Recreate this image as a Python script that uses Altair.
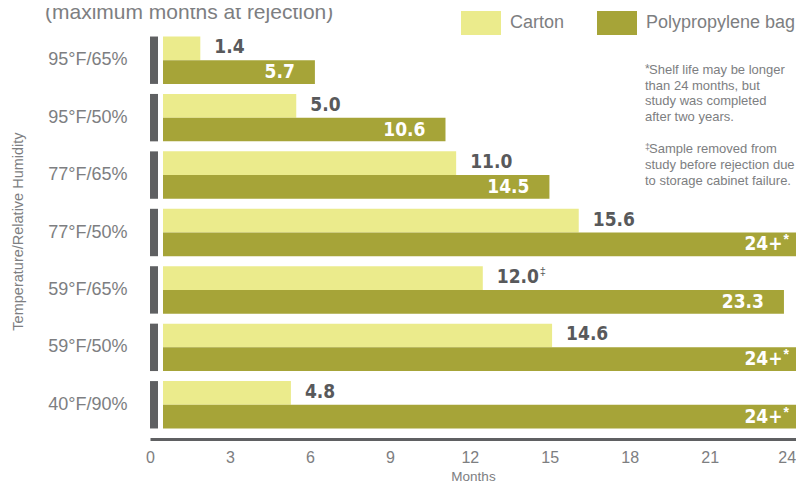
import altair as alt
import pandas as pd

# ---- data ----
categories = ["95°F/65%", "95°F/50%", "77°F/65%", "77°F/50%", "59°F/65%", "59°F/50%", "40°F/90%"]
series_names = ["Carton", "Polypropylene bag"]
carton_values = [1.4, 5.0, 11.0, 15.6, 12.0, 14.6, 4.8]
carton_labels = ["1.4", "5.0", "11.0", "15.6", "12.0‡", "14.6", "4.8"]
poly_values = [5.7, 10.6, 14.5, 24, 23.3, 24, 24]
poly_labels = ["5.7", "10.6", "14.5", "24+*", "23.3", "24+*", "24+*"]
x_ticks = [0, 3, 6, 9, 12, 15, 18, 21, 24]

title_text = "(maximum months at rejection)"
note1_first = "Shelf life may be longer"
note1_rest = ["than 24 months, but", "study was completed", "after two years."]
note2_first = "Sample removed from"
note2_rest = ["study before rejection due", "to storage cabinet failure."]

# ---- styles ----
CARTON = "#ebeb8c"
POLY = "#a6a438"
DARK = "#5f6062"
GREY_TXT = "#7d7e81"
NUM_TXT = "#58595b"
SANS = "Liberation Sans, Helvetica, Arial, sans-serif"
NARROW = "DejaVu Sans Condensed, sans-serif"
NUM_SIZE = 19

rows = []
for c, v, l in zip(categories, carton_values, carton_labels):
    rows.append({"cond": c, "series": series_names[0], "value": v,
                 "main": l.rstrip("*‡"), "sup": l[len(l.rstrip("*‡")):]})
for c, v, l in zip(categories, poly_values, poly_labels):
    rows.append({"cond": c, "series": series_names[1], "value": v,
                 "main": l.rstrip("*‡"), "sup": l[len(l.rstrip("*‡")):]})
df = pd.DataFrame(rows)
cats_df = pd.DataFrame({"cond": categories})
one = pd.DataFrame({"k": [0]})

W, H = 646, 413
xscale = alt.Scale(domain=[0, 24.24], nice=False, zero=False)
yscale = alt.Scale(domain=categories, paddingInner=0.174, paddingOuter=0.183)
y_enc = alt.Y("cond:N", sort=categories, scale=yscale,
              axis=alt.Axis(title="Temperature/Relative Humidity", labelFontSize=18,
                            labelFont=SANS, labelColor=GREY_TXT, labelPadding=23,
                            domain=False, ticks=False, titleFont=SANS, titleFontSize=14.5,
                            titleFontWeight="normal", titleColor=GREY_TXT,
                            titleX=-132, titleY=205, titleBaseline="middle", titleAngle=270))
yoff = alt.YOffset("series:N", sort=series_names)

base = alt.Chart(df)

bars = base.mark_bar(xOffset=13, x2Offset=13, clip=True).encode(
    x=alt.X("value:Q", scale=xscale,
            axis=alt.Axis(values=x_ticks, title="Months", grid=False, ticks=False,
                          labelFlush=False, labelFont=SANS, labelFontSize=16,
                          labelColor=GREY_TXT, labelPadding=10, domainColor=DARK,
                          domainWidth=3, titleFont=SANS, titleFontSize=13.5,
                          titleFontWeight="normal", titleColor=GREY_TXT, titlePadding=4,
                          labelAlign={"condition": {"test": "datum.value == 24", "value": "right"},
                                      "value": "center"},
                          labelOffset={"condition": {"test": "datum.value == 24", "value": 6},
                                       "value": 0})),
    x2=alt.datum(0),
    y=y_enc,
    yOffset=yoff,
    color=alt.Color("series:N", sort=series_names,
                    scale=alt.Scale(domain=series_names, range=[CARTON, POLY]),
                    legend=alt.Legend(orient="none", legendX=311, legendY=-23,
                                      direction="horizontal", columns=2, title=None,
                                      symbolType="M-1,-0.6L1,-0.6L1,0.6L-1,0.6Z",
                                      symbolSize=1600, symbolStrokeWidth=0,
                                      symbolOpacity=1, labelFont=SANS, labelFontSize=18,
                                      labelColor=GREY_TXT, labelOffset=9,
                                      columnPadding=32, padding=0)),
)

markers = alt.Chart(cats_df).mark_tick(thickness=8, size=47.4, color=DARK, xOffset=4,
                                       opacity=1).encode(
    x=alt.datum(0),
    y=alt.Y("cond:N", sort=categories),
)

carton_txt = base.transform_filter(alt.datum.series == series_names[0]).mark_text(
    align="left", baseline="middle", dx=27, dy=-1, font=NARROW, fontSize=NUM_SIZE,
    fontWeight="bold", color=NUM_TXT).encode(
    x="value:Q", y=alt.Y("cond:N", sort=categories), yOffset=yoff, text="main:N")

carton_sup = base.transform_filter(
    (alt.datum.series == series_names[0]) & (alt.datum.sup != "")).mark_text(
    align="left", baseline="middle", dx=70, dy=-6, font=SANS, fontSize=11,
    color=NUM_TXT).encode(
    x="value:Q", y=alt.Y("cond:N", sort=categories), yOffset=yoff, text="sup:N")

poly_txt = base.transform_filter(alt.datum.series == series_names[1]).mark_text(
    align="right", baseline="middle", dx=-7, dy=0, font=NARROW, fontSize=NUM_SIZE,
    fontWeight="bold", color="white").encode(
    x="value:Q", y=alt.Y("cond:N", sort=categories), yOffset=yoff, text="main:N")

poly_sup = base.transform_filter(
    (alt.datum.series == series_names[1]) & (alt.datum.sup != "")).mark_text(
    align="left", baseline="middle", dx=-6, dy=-4, font=SANS, fontSize=14,
    fontWeight="bold", color="white").encode(
    x="value:Q", y=alt.Y("cond:N", sort=categories), yOffset=yoff, text="sup:N")

ann = alt.Chart(one)
title_mark = ann.mark_text(text=title_text, align="left", baseline="alphabetic",
                           font=SANS, fontSize=21, color=GREY_TXT).encode(
    x=alt.value(-105), y=alt.value(-7))
star = ann.mark_text(text="*", align="left", baseline="alphabetic", font=SANS,
                     fontSize=12, color=GREY_TXT).encode(x=alt.value(495), y=alt.value(47))
n1a = ann.mark_text(text=note1_first, align="left", baseline="alphabetic", font=SANS,
                    fontSize=13, color=GREY_TXT).encode(x=alt.value(499), y=alt.value(48))
n1b = ann.mark_text(text=note1_rest, align="left", baseline="alphabetic", font=SANS,
                    fontSize=13, lineHeight=15.3, color=GREY_TXT).encode(
    x=alt.value(495), y=alt.value(64))
dag = ann.mark_text(text="‡", align="left", baseline="alphabetic", font=SANS,
                    fontSize=9, color=GREY_TXT).encode(x=alt.value(495), y=alt.value(124))
n2a = ann.mark_text(text=note2_first, align="left", baseline="alphabetic", font=SANS,
                    fontSize=13, color=GREY_TXT).encode(x=alt.value(499), y=alt.value(127))
n2b = ann.mark_text(text=note2_rest, align="left", baseline="alphabetic", font=SANS,
                    fontSize=13, lineHeight=15.5, color=GREY_TXT).encode(
    x=alt.value(495), y=alt.value(143))

chart = alt.layer(
    bars, markers, carton_txt, carton_sup, poly_txt, poly_sup,
    title_mark, star, n1a, n1b, dag, n2a, n2b
).properties(
    width=W, height=H,
    autosize=alt.AutoSizeParams(type="none"),
    padding={"left": 142, "top": 18, "right": 0, "bottom": 43},
    background="white",
).configure_view(stroke=None)

chart.save("out.html", embed_options={"renderer": "svg", "actions": False})
